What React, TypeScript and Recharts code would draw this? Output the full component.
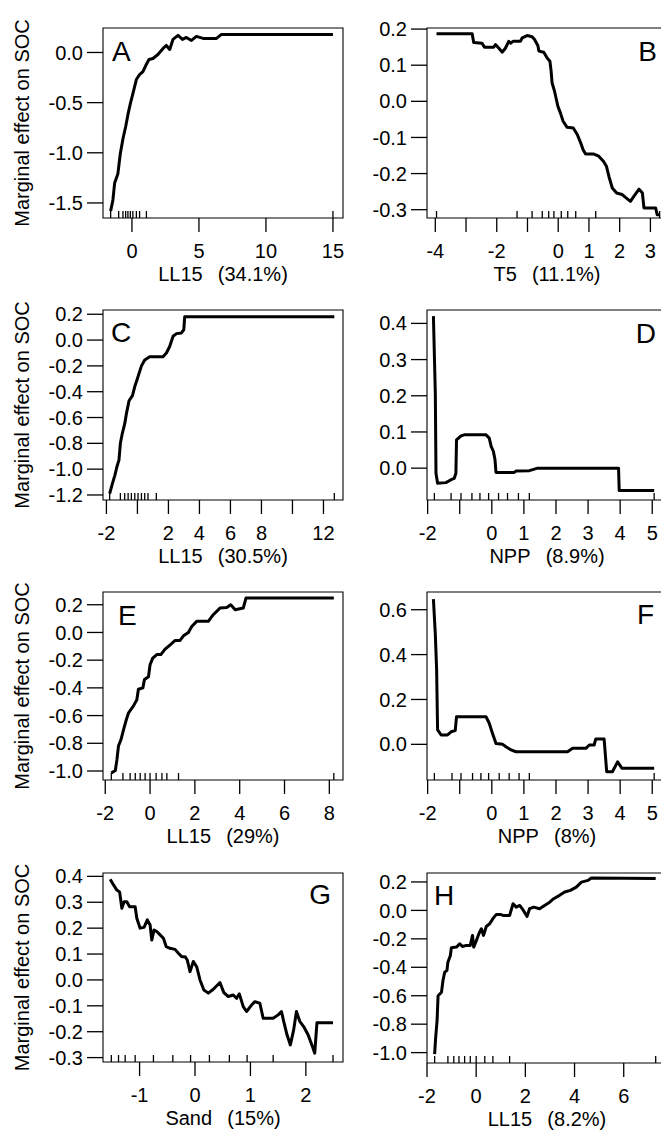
import React from 'react';
import { ComposedChart, Line, Scatter, XAxis, YAxis, ReferenceArea } from 'recharts';

const FONT = '"Liberation Sans", Arial, Helvetica, sans-serif';
const INK = '#000';

// ---------- Panel A : LL15 (34.1%) ----------
const aX = [-1.59, -1.42, -1.29, -1.05, -0.87, -0.67, -0.47, -0.3, -0.12, 0.07, 0.33, 0.57, 0.82, 1.07, 1.27, 1.57, 1.94, 2.32, 2.57, 2.82, 3.06, 3.44, 3.77, 4.06, 4.44, 4.81, 5.31, 6.31, 6.68, 15.0];
const aY = [-1.58, -1.47, -1.3, -1.21, -1.01, -0.86, -0.74, -0.62, -0.51, -0.41, -0.27, -0.22, -0.19, -0.12, -0.07, -0.06, -0.02, 0.04, 0.07, 0.03, 0.13, 0.17, 0.13, 0.15, 0.12, 0.16, 0.14, 0.14, 0.18, 0.18];
const aRug = [-1.59, -0.99, -0.67, -0.47, -0.3, -0.12, 0.07, 0.33, 0.57, 1.08, 15.0];
const aXTicks = [0, 5, 10, 15];
const aXLabels = [0, 5, 10, 15];
const aYTicks = [-1.5, -1.0, -0.5, 0.0];

// ---------- Panel B : T5 (11.1%) ----------
const bX = [-3.96, -2.8, -2.75, -2.48, -2.4, -2.1, -2.04, -1.93, -1.82, -1.72, -1.61, -1.55, -1.47, -1.23, -1.17, -1.01, -0.85, -0.77, -0.66, -0.63, -0.47, -0.36, -0.27, -0.23, -0.2, -0.12, -0.06, -0.01, 0.07, 0.16, 0.29, 0.49, 0.62, 0.73, 0.81, 0.89, 1.16, 1.32, 1.47, 1.57, 1.65, 1.76, 1.9, 2.08, 2.19, 2.35, 2.46, 2.63, 2.74, 2.79, 3.17, 3.22, 3.3];
const bY = [0.187, 0.187, 0.163, 0.161, 0.15, 0.15, 0.157, 0.147, 0.136, 0.147, 0.166, 0.161, 0.166, 0.166, 0.176, 0.182, 0.179, 0.171, 0.154, 0.139, 0.136, 0.12, 0.111, 0.083, 0.051, 0.028, 0.005, -0.014, -0.032, -0.055, -0.072, -0.074, -0.092, -0.115, -0.134, -0.146, -0.146, -0.152, -0.166, -0.18, -0.208, -0.24, -0.254, -0.258, -0.266, -0.277, -0.263, -0.243, -0.254, -0.295, -0.295, -0.314, -0.314];
const bRug = [-3.96, -1.34, -0.85, -0.52, -0.31, -0.14, 0.1, 0.31, 0.57, 1.22, 3.3];
const bXTicks = [-4, -3, -2, -1, 0, 1, 2, 3];
const bXLabels = [-4, -2, 0, 1, 2, 3];
const bYTicks = [-0.3, -0.2, -0.1, 0.0, 0.1, 0.2];

// ---------- Panel C : LL15 (30.5%) ----------
const cX = [-1.79, -1.61, -1.46, -1.32, -1.19, -1.1, -0.97, -0.82, -0.71, -0.54, -0.32, -0.17, -0.03, 0.1, 0.26, 0.47, 0.79, 1.65, 1.87, 2.08, 2.3, 2.52, 2.84, 2.99, 3.05, 12.7];
const cY = [-1.19, -1.11, -1.05, -0.98, -0.93, -0.8, -0.72, -0.65, -0.57, -0.47, -0.43, -0.36, -0.31, -0.26, -0.2, -0.155, -0.13, -0.13, -0.1, -0.05, 0.03, 0.05, 0.055, 0.08, 0.18, 0.18];
const cRug = [-1.79, -1.1, -0.82, -0.6, -0.39, -0.17, 0.04, 0.26, 0.47, 0.68, 1.22, 12.7];
const cXTicks = [-2, 0, 2, 4, 6, 8, 10, 12];
const cXLabels = [-2, 2, 4, 6, 8, 12];
const cYTicks = [-1.2, -1.0, -0.8, -0.6, -0.4, -0.2, 0.0, 0.2];

// ---------- Panel D : NPP (8.9%) ----------
const dX = [-1.82, -1.76, -1.74, -1.69, -1.43, -1.27, -1.17, -1.12, -1.1, -0.96, -0.86, -0.18, -0.08, -0.02, 0.05, 0.1, 0.13, 0.7, 0.75, 1.17, 1.43, 3.95, 3.97, 5.06];
const dY = [0.42, 0.203, -0.014, -0.042, -0.04, -0.032, -0.028, -0.014, 0.078, 0.089, 0.092, 0.092, 0.083, 0.06, 0.046, 0.023, -0.012, -0.012, -0.008, -0.007, 0.0, 0.0, -0.062, -0.062];
const dRug = [-1.79, -1.27, -0.96, -0.62, -0.37, -0.1, 0.21, 0.49, 0.83, 1.17, 5.06];
const dXTicks = [-2, -1, 0, 1, 2, 3, 4, 5];
const dXLabels = [-2, 0, 1, 2, 3, 4, 5];
const dYTicks = [0.0, 0.1, 0.2, 0.3, 0.4];

// ---------- Panel E : LL15 (29%) ----------
const eX = [-1.73, -1.55, -1.48, -1.41, -1.3, -1.18, -1.06, -0.96, -0.74, -0.59, -0.52, -0.32, -0.25, -0.07, 0.0, 0.12, 0.3, 0.48, 0.67, 0.9, 1.12, 1.34, 1.49, 1.71, 1.86, 2.08, 2.6, 2.82, 3.12, 3.42, 3.6, 3.8, 4.16, 4.28, 8.2];
const eY = [-1.015, -0.996, -0.92, -0.82, -0.775, -0.7, -0.63, -0.58, -0.53, -0.486, -0.41, -0.4, -0.34, -0.32, -0.233, -0.185, -0.16, -0.16, -0.12, -0.089, -0.058, -0.058, -0.024, 0.0, 0.043, 0.08, 0.08, 0.128, 0.176, 0.18, 0.2, 0.164, 0.176, 0.248, 0.248];
const eRug = [-1.73, -1.21, -0.89, -0.66, -0.44, -0.22, 0.0, 0.27, 0.53, 0.75, 1.27, 8.2];
const eXTicks = [-2, 0, 2, 4, 6, 8];
const eXLabels = [-2, 0, 2, 4, 6, 8];
const eYTicks = [-1.0, -0.8, -0.6, -0.4, -0.2, 0.0, 0.2];

// ---------- Panel F : NPP (8%) ----------
const fX = [-1.82, -1.76, -1.72, -1.69, -1.58, -1.38, -1.27, -1.14, -1.1, -0.18, -0.08, 0.02, 0.13, 0.34, 0.44, 0.6, 0.75, 2.36, 2.52, 2.93, 3.04, 3.19, 3.24, 3.5, 3.58, 3.76, 3.92, 4.06, 5.06];
const fY = [0.647, 0.488, 0.332, 0.064, 0.042, 0.042, 0.056, 0.061, 0.123, 0.123, 0.094, 0.049, 0.004, 0.0, -0.011, -0.025, -0.033, -0.033, -0.018, -0.018, -0.003, -0.003, 0.024, 0.024, -0.122, -0.122, -0.078, -0.107, -0.107];
const fRug = [-1.79, -1.24, -0.96, -0.6, -0.34, -0.1, 0.23, 0.54, 0.85, 1.17, 5.06];
const fXTicks = [-2, -1, 0, 1, 2, 3, 4, 5];
const fXLabels = [-2, 0, 1, 2, 3, 4, 5];
const fYTicks = [0.0, 0.2, 0.4, 0.6];

// ---------- Panel G : Sand (15%) ----------
const gX = [-1.53, -1.47, -1.41, -1.36, -1.32, -1.28, -1.23, -1.18, -1.08, -1.05, -0.99, -0.92, -0.86, -0.81, -0.78, -0.74, -0.69, -0.63, -0.57, -0.52, -0.45, -0.36, -0.3, -0.24, -0.18, -0.14, -0.09, -0.03, 0.03, 0.09, 0.16, 0.24, 0.33, 0.45, 0.52, 0.6, 0.69, 0.75, 0.8, 0.87, 0.93, 1.02, 1.08, 1.17, 1.23, 1.41, 1.5, 1.56, 1.6, 1.66, 1.72, 1.78, 1.83, 1.89, 1.96, 2.04, 2.12, 2.16, 2.2, 2.49];
const gY = [0.389, 0.367, 0.347, 0.34, 0.277, 0.302, 0.302, 0.283, 0.283, 0.238, 0.2, 0.203, 0.232, 0.212, 0.154, 0.193, 0.187, 0.174, 0.161, 0.129, 0.122, 0.118, 0.103, 0.09, 0.09, 0.077, 0.032, 0.071, 0.051, 0.0, -0.039, -0.051, -0.036, -0.01, -0.049, -0.064, -0.058, -0.071, -0.054, -0.103, -0.122, -0.097, -0.084, -0.09, -0.148, -0.148, -0.135, -0.122, -0.16, -0.212, -0.251, -0.193, -0.122, -0.16, -0.18, -0.212, -0.258, -0.283, -0.165, -0.165];
const gRug = [-1.51, -1.38, -1.26, -1.08, -0.75, -0.4, -0.08, 0.26, 0.62, 0.94, 1.41, 2.49];
const gXTicks = [-1, 0, 1, 2];
const gXLabels = [-1, 0, 1, 2];
const gYTicks = [-0.3, -0.2, -0.1, 0.0, 0.1, 0.2, 0.3, 0.4];

// ---------- Panel H : LL15 (8.2%) ----------
const hX = [-1.69, -1.65, -1.59, -1.55, -1.41, -1.35, -1.28, -1.19, -1.15, -1.05, -1.01, -0.8, -0.67, -0.56, -0.4, -0.24, -0.15, -0.1, 0.01, 0.11, 0.21, 0.3, 0.41, 0.55, 0.68, 0.82, 0.98, 1.09, 1.36, 1.5, 1.63, 1.77, 1.9, 2.07, 2.17, 2.34, 2.58, 2.78, 2.99, 3.15, 3.39, 3.6, 3.83, 4.07, 4.28, 4.55, 4.68, 7.3];
const hY = [-1.01, -0.9, -0.775, -0.6, -0.575, -0.493, -0.434, -0.423, -0.364, -0.317, -0.263, -0.258, -0.235, -0.254, -0.246, -0.246, -0.176, -0.258, -0.211, -0.164, -0.129, -0.176, -0.113, -0.094, -0.058, -0.028, -0.028, -0.035, -0.035, 0.047, 0.023, 0.035, 0.005, -0.042, 0.012, 0.023, 0.012, 0.035, 0.058, 0.082, 0.106, 0.129, 0.141, 0.164, 0.199, 0.211, 0.228, 0.224];
const hRug = [-1.69, -1.15, -0.91, -0.7, -0.47, -0.24, 0.0, 0.35, 0.68, 1.36, 7.3];
const hXTicks = [-2, 0, 2, 4, 6];
const hXLabels = [-2, 0, 2, 4, 6];
const hYTicks = [-1.0, -0.8, -0.6, -0.4, -0.2, 0.0, 0.2];

const SP = '\u00a0\u00a0\u2009';
const xTitles = {
  A: 'LL15' + SP + '(34.1%)',
  B: 'T5' + SP + '(11.1%)',
  C: 'LL15' + SP + '(30.5%)',
  D: 'NPP' + SP + '(8.9%)',
  E: 'LL15' + SP + '(29%)',
  F: 'NPP' + SP + '(8%)',
  G: 'Sand' + SP + '(15%)',
  H: 'LL15' + SP + '(8.2%)',
};
const Y_TITLE = 'Marginal effect on SOC';

type PanelDef = {
  letter: string;
  xs: number[];
  ys: number[];
  rug: number[];
  xTicks: number[];
  xLabels: number[];
  yTicks: number[];
  xDomain: [number, number];
  yDomain: [number, number];
  xTitle: string;
  // layout
  boxLeft: number;
  boxTop: number;
  boxH: number;
  yTitle: boolean;
  letterSide: 'left' | 'right';
  letterDx: number;
  letterDy: number;
};

const panels: PanelDef[] = [
  { letter: 'A', xs: aX, ys: aY, rug: aRug, xTicks: aXTicks, xLabels: aXLabels, yTicks: aYTicks, xDomain: [-2.16, 15.75], yDomain: [-1.65, 0.244], xTitle: xTitles.A, boxLeft: 103, boxTop: 28, boxH: 190, yTitle: true, letterSide: 'left', letterDx: 9, letterDy: 33 },
  { letter: 'B', xs: bX, ys: bY, rug: bRug, xTicks: bXTicks, xLabels: bXLabels, yTicks: bYTicks, xDomain: [-4.27, 3.54], yDomain: [-0.323, 0.203], xTitle: xTitles.B, boxLeft: 427, boxTop: 28, boxH: 190, yTitle: false, letterSide: 'right', letterDx: 10, letterDy: 33 },
  { letter: 'C', xs: cX, ys: cY, rug: cRug, xTicks: cXTicks, xLabels: cXLabels, yTicks: cYTicks, xDomain: [-2.22, 13.26], yDomain: [-1.239, 0.233], xTitle: xTitles.C, boxLeft: 103, boxTop: 310, boxH: 190, yTitle: true, letterSide: 'left', letterDx: 8, letterDy: 32 },
  { letter: 'D', xs: dX, ys: dY, rug: dRug, xTicks: dXTicks, xLabels: dXLabels, yTicks: dYTicks, xDomain: [-2.02, 5.46], yDomain: [-0.088, 0.437], xTitle: xTitles.D, boxLeft: 427, boxTop: 310, boxH: 190, yTitle: false, letterSide: 'right', letterDx: 11, letterDy: 33 },
  { letter: 'E', xs: eX, ys: eY, rug: eRug, xTicks: eXTicks, xLabels: eXLabels, yTicks: eYTicks, xDomain: [-2.1, 8.61], yDomain: [-1.065, 0.292], xTitle: xTitles.E, boxLeft: 103, boxTop: 592, boxH: 188, yTitle: true, letterSide: 'left', letterDx: 15, letterDy: 33 },
  { letter: 'F', xs: fX, ys: fY, rug: fRug, xTicks: fXTicks, xLabels: fXLabels, yTicks: fYTicks, xDomain: [-2.02, 5.46], yDomain: [-0.159, 0.679], xTitle: xTitles.F, boxLeft: 427, boxTop: 592, boxH: 188, yTitle: false, letterSide: 'right', letterDx: 13, letterDy: 32 },
  { letter: 'G', xs: gX, ys: gY, rug: gRug, xTicks: gXTicks, xLabels: gXLabels, yTicks: gYTicks, xDomain: [-1.66, 2.67], yDomain: [-0.317, 0.413], xTitle: xTitles.G, boxLeft: 103, boxTop: 873, boxH: 189, yTitle: true, letterSide: 'right', letterDx: 12, letterDy: 31 },
  { letter: 'H', xs: hX, ys: hY, rug: hRug, xTicks: hXTicks, xLabels: hXLabels, yTicks: hYTicks, xDomain: [-2.0, 7.76], yDomain: [-1.073, 0.263], xTitle: xTitles.H, boxLeft: 427, boxTop: 873, boxH: 190, yTitle: false, letterSide: 'left', letterDx: 7, letterDy: 32 },
];

const BOX_W = 240;
const M_TOP = 20;
const M_RIGHT = 20;
const M_BOTTOM = 5;
const M_LEFT = 43;
const Y_AXIS_W = 60;
const X_AXIS_H = 70;
const PLOT_LEFT = M_LEFT + Y_AXIS_W;
const CHART_W = PLOT_LEFT + BOX_W + M_RIGHT;

function YTitle(props: any) {
  const vb = props.viewBox;
  if (!vb) return null;
  const cx = vb.x - 14.5;
  const cy = vb.y + vb.height / 2;
  return (
    <text x={cx} y={cy} transform={`rotate(-90, ${cx}, ${cy})`} textAnchor="middle" fontSize={20} fontFamily={FONT} fill={INK}>
      {Y_TITLE}
    </text>
  );
}

function PanelLetter(props: any) {
  const vb = props.viewBox;
  if (!vb) return null;
  const { letter, side, dx, dy } = props;
  const x = side === 'left' ? vb.x + dx : vb.x + vb.width - dx;
  const y = vb.y + dy;
  return (
    <text x={x} y={y} textAnchor={side === 'left' ? 'start' : 'end'} fontSize={28} fontFamily={FONT} fill={INK}>
      {letter}
    </text>
  );
}

function RugMark(props: any) {
  const { cx, cy } = props;
  if (cx == null || cy == null) return <g />;
  return <line x1={cx} x2={cx} y1={cy} y2={cy - 7} stroke={INK} strokeWidth={1.3} />;
}

function Panel({ p }: { p: PanelDef }) {
  const line = p.xs.map((x, i) => ({ x, y: p.ys[i] }));
  const rug = p.rug.map((x) => ({ x, y: p.yDomain[0] }));
  const chartH = M_TOP + p.boxH + X_AXIS_H + M_BOTTOM;
  return (
    <div style={{ position: 'absolute', left: p.boxLeft - PLOT_LEFT, top: p.boxTop - M_TOP }}>
      <ComposedChart width={CHART_W} height={chartH} margin={{ top: M_TOP, right: M_RIGHT, bottom: M_BOTTOM, left: M_LEFT }}>
        <XAxis
          type="number"
          dataKey="x"
          domain={p.xDomain}
          allowDataOverflow
          ticks={p.xTicks}
          interval={0}
          tickFormatter={(v: number) => (p.xLabels.indexOf(v) >= 0 ? String(v) : '')}
          tickSize={14}
          tickMargin={12}
          axisLine={false}
          tickLine={{ stroke: INK, strokeWidth: 1.3 }}
          tick={{ fill: INK, fontSize: 20, fontFamily: FONT }}
          height={X_AXIS_H}
          label={{ value: p.xTitle, position: 'insideBottom', offset: 7.5, fill: INK, fontSize: 20, fontFamily: FONT }}
        />
        <YAxis
          type="number"
          dataKey="y"
          domain={p.yDomain}
          allowDataOverflow
          ticks={p.yTicks}
          interval={0}
          tickFormatter={(v: number) => v.toFixed(1)}
          tickSize={16}
          tickMargin={4}
          width={Y_AXIS_W}
          axisLine={false}
          tickLine={{ stroke: INK, strokeWidth: 1.3 }}
          tick={{ fill: INK, fontSize: 20, fontFamily: FONT }}
          label={p.yTitle ? <YTitle /> : undefined}
        />
        <ReferenceArea
          x1={p.xDomain[0]}
          x2={p.xDomain[1]}
          y1={p.yDomain[0]}
          y2={p.yDomain[1]}
          fill="none"
          fillOpacity={0}
          stroke={INK}
          strokeWidth={1.1}
          ifOverflow="visible"
          label={<PanelLetter letter={p.letter} side={p.letterSide} dx={p.letterDx} dy={p.letterDy} />}
        />
        <Line
          data={line}
          dataKey="y"
          type="linear"
          stroke={INK}
          strokeWidth={3}
          strokeLinejoin="round"
          dot={false}
          activeDot={false}
          isAnimationActive={false}
        />
        <Scatter data={rug} dataKey="y" shape={RugMark} isAnimationActive={false} />
      </ComposedChart>
    </div>
  );
}

export default function App() {
  return (
    <div style={{ position: 'absolute', left: 0, top: 0, width: 661, height: 1134, overflow: 'hidden', background: '#fff' }}>
      {panels.map((p) => (
        <Panel key={p.letter} p={p} />
      ))}
    </div>
  );
}
